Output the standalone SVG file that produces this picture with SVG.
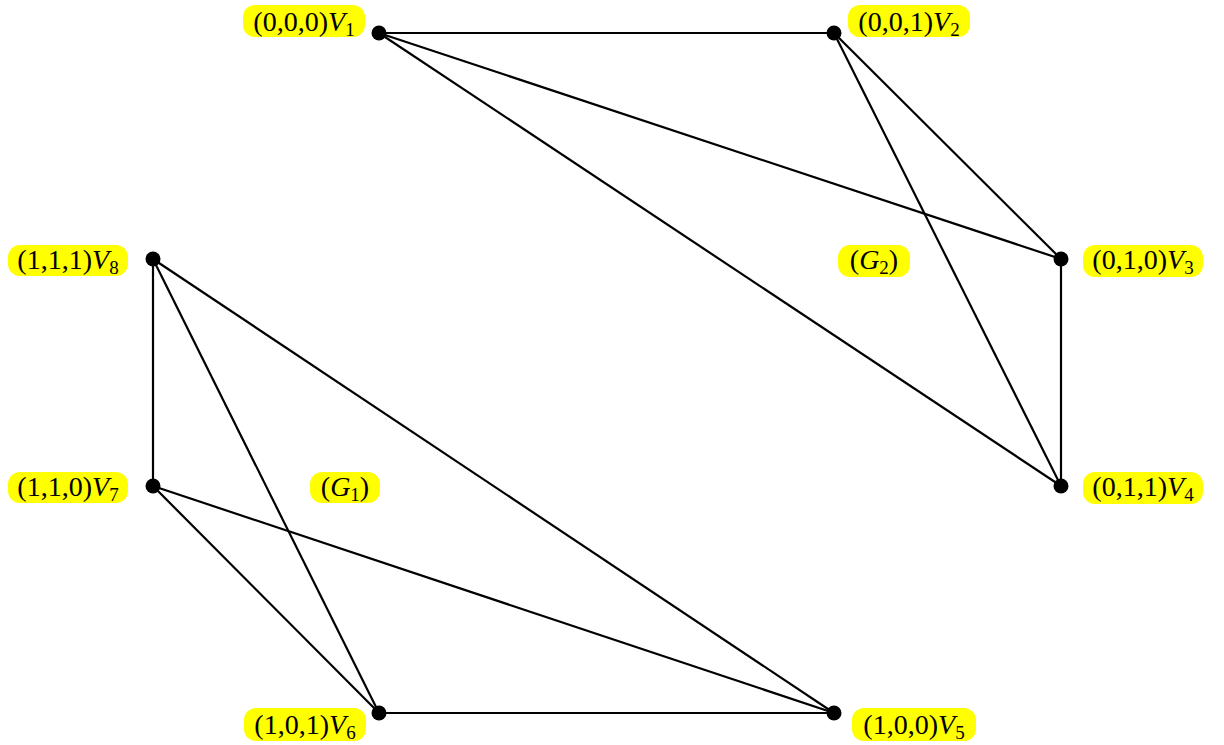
<svg xmlns="http://www.w3.org/2000/svg" width="1224" height="745" viewBox="0 0 1224 745">
<style>
.bg{fill:#ffff00;stroke:none}
.lbl{font-family:"Liberation Serif","DejaVu Serif",serif;font-size:28px;fill:#000;text-anchor:middle}
.it{font-style:italic}
.sub{font-size:19px}
.edge{stroke:#000;stroke-width:2.2;fill:none}
.dot{fill:#000}
</style>
<rect width="1224" height="745" fill="#fff"/>
<g id="connectors">
<line class="edge" x1="379" y1="33" x2="834" y2="33"/>
<line class="edge" x1="379" y1="33" x2="1061" y2="259"/>
<line class="edge" x1="379" y1="33" x2="1061" y2="486"/>
<line class="edge" x1="834" y1="33" x2="1061" y2="259"/>
<line class="edge" x1="834" y1="33" x2="1061" y2="486"/>
<line class="edge" x1="1061" y1="259" x2="1061" y2="486"/>
<line class="edge" x1="834" y1="713" x2="379" y2="713"/>
<line class="edge" x1="834" y1="713" x2="153" y2="486"/>
<line class="edge" x1="834" y1="713" x2="153" y2="259"/>
<line class="edge" x1="379" y1="713" x2="153" y2="486"/>
<line class="edge" x1="379" y1="713" x2="153" y2="259"/>
<line class="edge" x1="153" y1="486" x2="153" y2="259"/>
</g>
<g id="V1"><circle class="dot" cx="379" cy="33" r="7.5"/><rect class="bg" x="243" y="5" width="122" height="32" rx="12"/><text class="lbl" x="304" y="31">(0,0,0)<tspan class="it">V</tspan><tspan class="sub" dy="5">1</tspan></text></g>
<g id="V2"><circle class="dot" cx="834" cy="33" r="7.5"/><rect class="bg" x="848" y="5" width="122" height="32" rx="12"/><text class="lbl" x="909" y="31">(0,0,1)<tspan class="it">V</tspan><tspan class="sub" dy="5">2</tspan></text></g>
<g id="V3"><circle class="dot" cx="1061" cy="259" r="7.5"/><rect class="bg" x="1083" y="245" width="120" height="32" rx="12"/><text class="lbl" x="1143" y="269">(0,1,0)<tspan class="it">V</tspan><tspan class="sub" dy="5">3</tspan></text></g>
<g id="V4"><circle class="dot" cx="1061" cy="486" r="7.5"/><rect class="bg" x="1083" y="472" width="120" height="32" rx="12"/><text class="lbl" x="1143" y="496">(0,1,1)<tspan class="it">V</tspan><tspan class="sub" dy="5">4</tspan></text></g>
<g id="V5"><circle class="dot" cx="834" cy="713" r="7.5"/><rect class="bg" x="852" y="708" width="124" height="33" rx="12"/><text class="lbl" x="914" y="734">(1,0,0)<tspan class="it">V</tspan><tspan class="sub" dy="5">5</tspan></text></g>
<g id="V6"><circle class="dot" cx="379" cy="713" r="7.5"/><rect class="bg" x="244" y="708" width="122" height="33" rx="12"/><text class="lbl" x="305" y="734">(1,0,1)<tspan class="it">V</tspan><tspan class="sub" dy="5">6</tspan></text></g>
<g id="V7"><circle class="dot" cx="153" cy="486" r="7.5"/><rect class="bg" x="8" y="472" width="120" height="31" rx="12"/><text class="lbl" x="68" y="496">(1,1,0)<tspan class="it">V</tspan><tspan class="sub" dy="5">7</tspan></text></g>
<g id="V8"><circle class="dot" cx="153" cy="259" r="7.5"/><rect class="bg" x="8" y="245" width="120" height="31" rx="12"/><text class="lbl" x="68" y="269">(1,1,1)<tspan class="it">V</tspan><tspan class="sub" dy="5">8</tspan></text></g>
<g id="G1"><rect class="bg" x="310" y="472" width="70" height="31" rx="12"/><text class="lbl" x="345" y="496">(<tspan class="it">G</tspan><tspan class="sub" dy="5">1</tspan><tspan dy="-5">)</tspan></text></g>
<g id="G2"><rect class="bg" x="838" y="245" width="72" height="32" rx="12"/><text class="lbl" x="874" y="269">(<tspan class="it">G</tspan><tspan class="sub" dy="5">2</tspan><tspan dy="-5">)</tspan></text></g>
</svg>
